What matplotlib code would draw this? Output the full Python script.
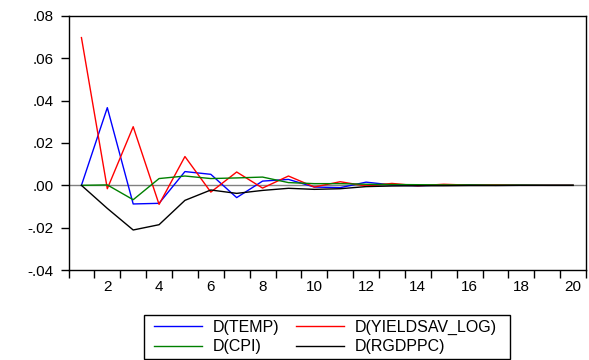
import matplotlib
matplotlib.use("Agg")
import matplotlib.pyplot as plt
from matplotlib.patches import Rectangle

periods = list(range(1, 21))
temp = [0.0, 0.0367, -0.0088, -0.0085, 0.0065, 0.0052, -0.0058, 0.0020, 0.0028, -0.0008,
        -0.0011, 0.0015, 0.0002, -0.0002, 0.0002, 0.0003, 0.0, 0.0, 0.0, 0.0]
yieldsav = [0.0698, -0.0016, 0.0277, -0.0090, 0.0136, -0.0032, 0.0063, -0.0013, 0.0044, -0.0008,
            0.0017, -0.0003, 0.0009, -0.0002, 0.0005, 0.0001, 0.0002, 0.0, 0.0, 0.0]
cpi = [0.0, 0.0002, -0.0068, 0.0032, 0.0044, 0.0032, 0.0035, 0.0039, 0.0013, 0.0008,
       0.0008, 0.0005, 0.0004, 0.0003, 0.0002, 0.0002, 0.0001, 0.0001, 0.0, 0.0]
rgdppc = [0.0, -0.0109, -0.0211, -0.0186, -0.0071, -0.0022, -0.0038, -0.0024, -0.0014, -0.0019,
          -0.0016, -0.0006, -0.0003, -0.0002, -0.0002, -0.0001, -0.0001, 0.0, 0.0, 0.0]

series = [("D(TEMP)", temp, "#0000ff"),
          ("D(YIELDSAV_LOG)", yieldsav, "#ff0000"),
          ("D(CPI)", cpi, "#008000"),
          ("D(RGDPPC)", rgdppc, "#000000")]

yticks = [-0.04, -0.02, 0.0, 0.02, 0.04, 0.06, 0.08]
ytick_labels = ["-.04", "-.02", ".00", ".02", ".04", ".06", ".08"]
xlabels = [2, 4, 6, 8, 10, 12, 14, 16, 18, 20]

plt.rcParams['font.family'] = ['Liberation Sans', 'DejaVu Sans']

fig = plt.figure(figsize=(5.89, 3.6), dpi=100)
ax = fig.add_axes([68.5/589, 1 - 270/360, (586 - 68.5)/589, (270 - 16)/360])

ax.axhline(0, color="#808080", lw=1.0, zorder=1)
for name, vals, col in series:
    ax.plot(periods, vals, color=col, lw=1.0, label=name, zorder=2)

ax.set_xlim(0.5, 20.5)
ax.set_ylim(-0.04, 0.08)
ax.set_yticks(yticks)
ax.set_yticklabels(ytick_labels, fontsize=11)
ax.set_xticks([i + 0.5 for i in range(0, 21)])
ax.set_xticklabels([])
ax.set_xticks(xlabels, minor=True)
ax.set_xticklabels([str(v) for v in xlabels], minor=True, fontsize=11)
ax.tick_params(axis='x', which='minor', length=0, pad=7.5)
ax.tick_params(axis='x', which='major', direction='out', length=5.5, width=1.0)
ax.tick_params(axis='y', direction='out', length=5.5, width=1.0, pad=5)
for s in ax.spines.values():
    s.set_linewidth(1.0)

handles, labels = ax.get_legend_handles_labels()
order = [0, 2, 1, 3]
leg = fig.legend([handles[i] for i in order], [labels[i] for i in order],
                 ncol=2, loc='center', bbox_to_anchor=(325.5/589, (360 - 337)/360),
                 frameon=False, fontsize=11.5, handlelength=3.0, handletextpad=0.7,
                 columnspacing=1.0, labelspacing=0.3, borderpad=0)
fig.patches.append(Rectangle((144/589, 1 - 359/360), (510 - 144)/589, (359 - 315)/360,
                             transform=fig.transFigure, fill=False, edgecolor='black', lw=1.0))

fig.savefig("out.png", dpi=100)
